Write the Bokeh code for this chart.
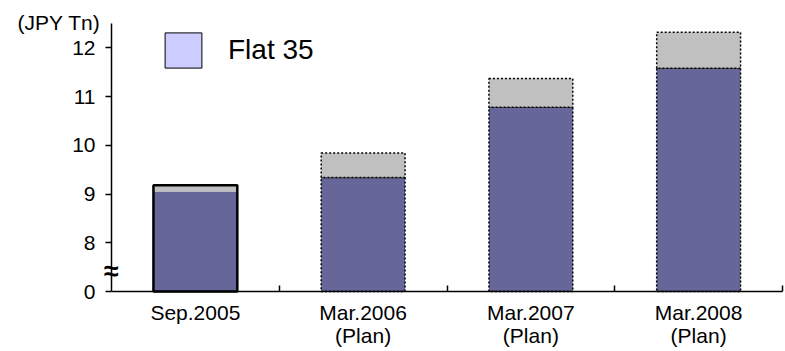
import numpy as np
from bokeh.plotting import figure
from bokeh.models import (ColumnDataSource, CDSView, IndexFilter, FixedTicker,
                          Range1d, Label, Legend, LegendItem)
from bokeh.embed import file_html
from bokeh.resources import INLINE

# Housing loan balance (JPY trillion) by period
periods = ["Sep.2005", "Mar.2006\n(Plan)", "Mar.2007\n(Plan)", "Mar.2008\n(Plan)"]
base_values = [9.05, 9.34, 10.78, 11.58]     # lower (dark) segment top
total_values = [9.18, 9.84, 11.37, 12.32]    # upper (grey) segment top

# Broken value axis: 0, then 8..12
y_tick_values = [0, 8, 9, 10, 11, 12]
BREAK_SHIFT = 7          # values >= 8 are drawn shifted down by this amount
Y_TOP = 12.5

FONT = "Liberation Sans"
DARK = "#666699"
GREY = "#C0C0C0"
SWATCH = "#CCCCFF"

W, H = 785, 351
AXIS_LEFT, AXIS_RIGHT = 111, 782      # pixel extent of the category axis
AXIS_TOP, AXIS_BOTTOM = 23, 291       # pixel extent of the value axis


def shifted(v):
    return v - BREAK_SHIFT if v > 0 else 0


n = len(periods)
source = ColumnDataSource(dict(
    x=[i + 0.5 for i in range(n)],
    base=[shifted(v) for v in base_values],
    total=[shifted(v) for v in total_values],
))
actual_view = CDSView(filter=IndexFilter([0]))
plan_view = CDSView(filter=IndexFilter(list(range(1, n))))

# The frame covers the whole canvas; both axes are pinned at the origin so the
# tick labels, unit caption and break mark all sit inside it.
px_x = (AXIS_RIGHT - AXIS_LEFT) / n
y_span = shifted(Y_TOP)
px_y = (AXIS_BOTTOM - AXIS_TOP) / y_span
x_range = Range1d(-AXIS_LEFT / px_x, n + (W - AXIS_RIGHT) / px_x)
y_range = Range1d(-(H - AXIS_BOTTOM) / px_y, y_span + AXIS_TOP / px_y)

p = figure(width=W, height=H, output_backend="svg", toolbar_location=None,
           x_range=x_range, y_range=y_range,
           min_border_left=0, min_border_right=0, min_border_top=0,
           min_border_bottom=0)
p.outline_line_color = None
p.grid.visible = False
p.background_fill_color = "white"

BAR_W = 0.5

# Actual figure: plain fills with a heavy solid outline around the whole bar
p.vbar(x="x", width=BAR_W, bottom=0, top="base", source=source, view=actual_view,
       fill_color=DARK, line_color=None)
p.vbar(x="x", width=BAR_W, bottom="base", top="total", source=source, view=actual_view,
       fill_color=GREY, line_color=None)
p.vbar(x="x", width=BAR_W, bottom=0, top="total", source=source, view=actual_view,
       fill_color=None, line_color="black", line_width=2.5)

# Planned figures: dotted outlines on each segment
p.vbar(x="x", width=BAR_W, bottom=0, top="base", source=source, view=plan_view,
       fill_color=DARK, line_color="black", line_width=1.5, line_dash="2 2")
p.vbar(x="x", width=BAR_W, bottom="base", top="total", source=source, view=plan_view,
       fill_color=GREY, line_color="black", line_width=1.5, line_dash="2 2")

# Category axis
xa = p.xaxis[0]
xa.fixed_location = 0
xa.bounds = (0, n)
xa.ticker = FixedTicker(ticks=[i + 0.5 for i in range(n)],
                        minor_ticks=[i + 1 for i in range(n)])
xa.major_label_overrides = {i + 0.5: lab for i, lab in enumerate(periods)}
xa.major_tick_in = 0
xa.major_tick_out = 0
xa.minor_tick_in = 6
xa.minor_tick_out = 0
xa.minor_tick_line_color = "black"
xa.minor_tick_line_width = 1.5
xa.axis_line_width = 1.5
xa.axis_line_color = "black"
xa.major_label_standoff = 9
xa.major_label_text_font = FONT
xa.major_label_text_font_size = "21px"
xa.major_label_text_color = "black"
xa.major_label_text_line_height = 1.0

# Value axis, pinned at the left end of the category axis
ya = p.yaxis[0]
ya.fixed_location = 0
ya.bounds = (0, y_span)
ya.ticker = FixedTicker(ticks=[shifted(v) for v in y_tick_values], minor_ticks=[])
ya.major_label_overrides = {shifted(v): str(v) for v in y_tick_values}
ya.major_tick_in = 0
ya.major_tick_out = 6
ya.major_tick_line_width = 1.5
ya.axis_line_width = 1.5
ya.axis_line_color = "black"
ya.major_label_standoff = 10
ya.major_label_text_font = FONT
ya.major_label_text_font_size = "21px"
ya.major_label_text_color = "black"

# Unit caption and axis break mark
p.add_layout(Label(x=-0.313, y=y_span + 0.02, text="(JPY Tn)", text_align="center",
                   text_baseline="middle", text_font=FONT, text_font_size="21px",
                   text_color="black"))
p.add_layout(Label(x=0, y=0.43, text="≈", text_align="center",
                   text_baseline="middle", text_font=FONT, text_font_size="27px",
                   text_font_style="bold", text_color="black"))

# Legend (its swatch glyph is never drawn in the plot area); the area legend
# glyph is inset by 10% on each side, hence the larger glyph box.
swatch = p.vbar(x=np.array([np.nan]), width=BAR_W, top=np.array([np.nan]),
                fill_color=SWATCH, line_color="black", line_width=1)
legend = Legend(items=[LegendItem(label="Flat 35", renderers=[swatch])],
                location=(160, H - 72), glyph_width=46, glyph_height=44,
                label_text_font=FONT, label_text_font_size="28px",
                label_text_color="black",
                label_standoff=22, padding=0, margin=0, spacing=0,
                border_line_color=None, background_fill_alpha=0)
p.add_layout(legend)

open("out.html", "w").write(file_html(p, INLINE))
